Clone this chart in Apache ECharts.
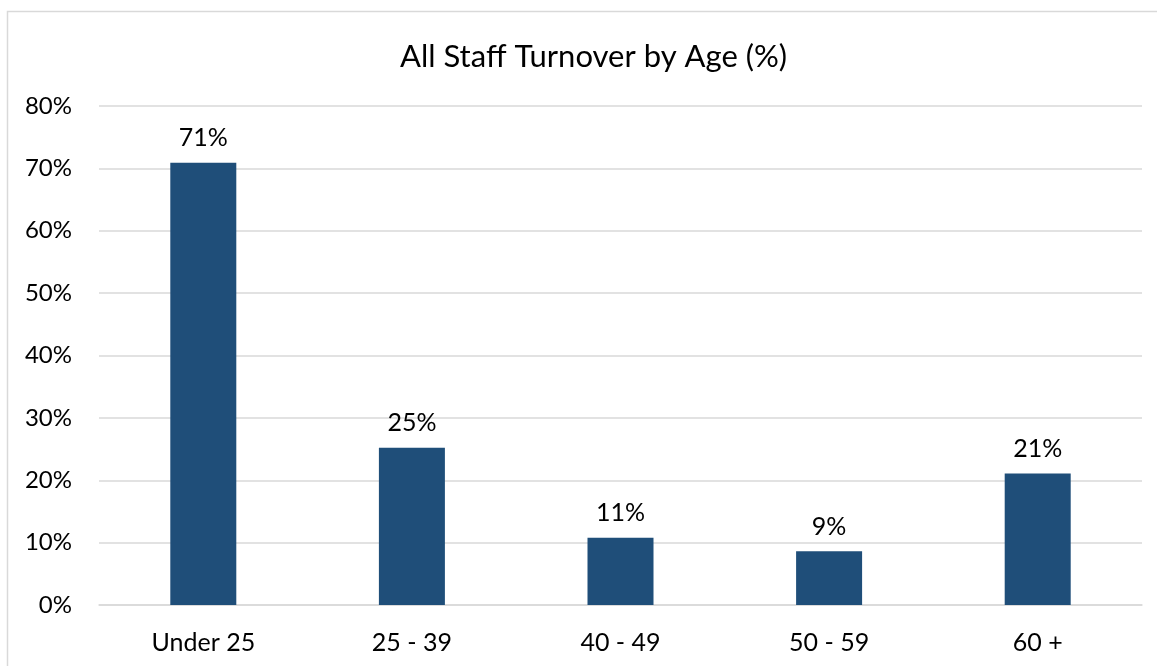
<!DOCTYPE html>
<html>
<head>
<meta charset="utf-8">
<script src="https://cdn.jsdelivr.net/npm/echarts@6/dist/echarts.min.js"></script>
<style>
html,body{margin:0;padding:0;background:#fff;}
#chart{width:1157px;height:666px;}
</style>
</head>
<body>
<div id="chart"></div>
<script>
const categories = ['Under 25', '25 - 39', '40 - 49', '50 - 59', '60 +'];
const turnover = [70.9, 25.2, 10.8, 8.6, 21.1];
const yTicks = [0, 10, 20, 30, 40, 50, 60, 70, 80];

const FONT = 'Lato';
const chart = echarts.init(document.getElementById('chart'));
chart.setOption({
  backgroundColor: '#fff',
  animation: false,
  title: {
    text: 'All Staff Turnover by Age (%)',
    left: 395,
    top: 36,
    textStyle: { fontFamily: FONT, fontSize: 31, fontWeight: 'normal', color: '#000' }
  },
  graphic: [{
    type: 'rect',
    shape: { x: 7.5, y: 11.5, width: 1200, height: 700 },
    style: { fill: 'none', stroke: '#d9d9d9', lineWidth: 1.5 },
    silent: true
  }],
  grid: { left: 99, right: 15, top: 106, bottom: 61 },
  xAxis: {
    type: 'category',
    data: categories,
    axisLine: { show: true, lineStyle: { color: '#d9d9d9', width: 1.5 } },
    axisTick: { show: false },
    axisLabel: { fontFamily: FONT, fontSize: 25, color: '#000', margin: 25 }
  },
  yAxis: {
    type: 'value',
    min: yTicks[0],
    max: yTicks[yTicks.length - 1],
    interval: 10,
    axisLine: { show: false },
    axisTick: { show: false },
    splitLine: { lineStyle: { color: '#d9d9d9', width: 1.5 } },
    axisLabel: { fontFamily: FONT, fontSize: 24, color: '#000', margin: 27, formatter: v => v + '%' }
  },
  series: [{
    type: 'bar',
    data: turnover,
    barWidth: 66,
    itemStyle: { color: '#1F4E79' },
    label: {
      show: true,
      position: 'top',
      distance: 12,
      fontFamily: FONT,
      fontSize: 25,
      color: '#000',
      formatter: p => Math.round(p.value) + '%'
    }
  }]
});
</script>
</body>
</html>
